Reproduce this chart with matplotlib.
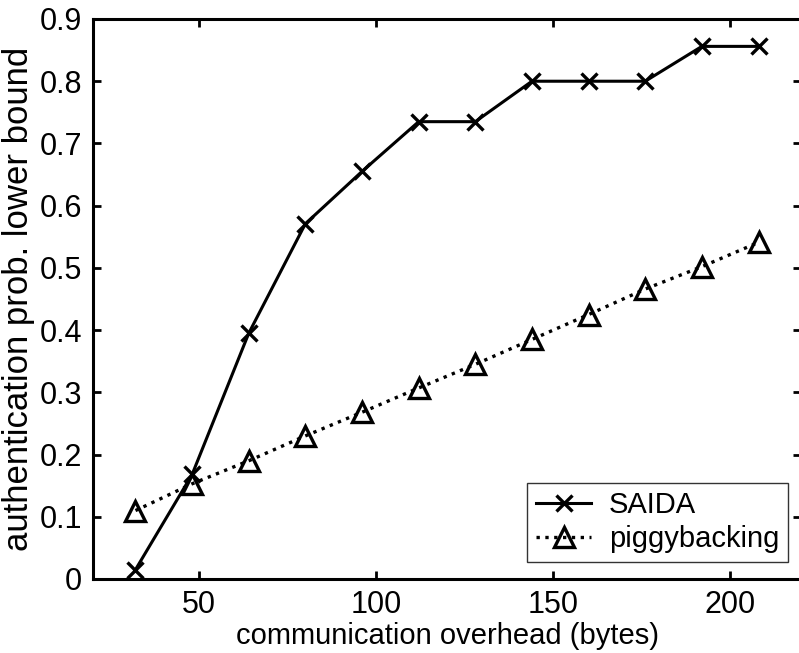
import matplotlib.pyplot as plt

plt.rcParams["font.family"] = ["Liberation Sans", "DejaVu Sans"]

# Data
overhead = [32, 48, 64, 80, 96, 112, 128, 144, 160, 176, 192, 208]
saida = [0.015, 0.168, 0.395, 0.571, 0.655, 0.735, 0.735, 0.80, 0.80, 0.80, 0.856, 0.856]
piggyback = [0.110, 0.153, 0.190, 0.230, 0.268, 0.307, 0.345, 0.385, 0.425, 0.466, 0.502, 0.541]

fig = plt.figure(figsize=(7.99, 6.53), dpi=100)
ax = fig.add_axes([93 / 799, 74 / 653, 708 / 799, 560 / 653])

ax.plot(overhead, saida, color="black", linestyle="-", linewidth=2.2,
        marker="x", markersize=11, markeredgewidth=2.4, label="SAIDA")
ax.plot(overhead, piggyback, color="black", linestyle=":", linewidth=2.4,
        marker="^", markersize=14, markeredgewidth=2.4, markerfacecolor="none",
        label="piggybacking")

ax.set_xlim(20, 220)
ax.set_ylim(0, 0.9)
ax.set_xticks([50, 100, 150, 200])
ax.set_yticks([0, 0.1, 0.2, 0.3, 0.4, 0.5, 0.6, 0.7, 0.8, 0.9])
ax.set_yticklabels(["0", "0.1", "0.2", "0.3", "0.4", "0.5", "0.6", "0.7", "0.8", "0.9"])

ax.tick_params(direction="in", top=True, right=True, length=6, width=2,
               labelsize=22, pad=8)
for s in ax.spines.values():
    s.set_linewidth(2.2)

ax.set_xlabel("communication overhead (bytes)", fontsize=21, labelpad=1)
ax.set_ylabel("authentication prob. lower bound", fontsize=25, labelpad=3)

leg = ax.legend(loc="lower right", fontsize=21, frameon=True, fancybox=False,
                edgecolor="black", handlelength=1.9, handletextpad=0.6,
                borderpad=0.3, borderaxespad=0, labelspacing=0.2,
                bbox_to_anchor=(788 / 799, 91 / 653),
                bbox_transform=fig.transFigure)
leg.get_frame().set_linewidth(1.0)

fig.savefig("out.png", dpi=100)
